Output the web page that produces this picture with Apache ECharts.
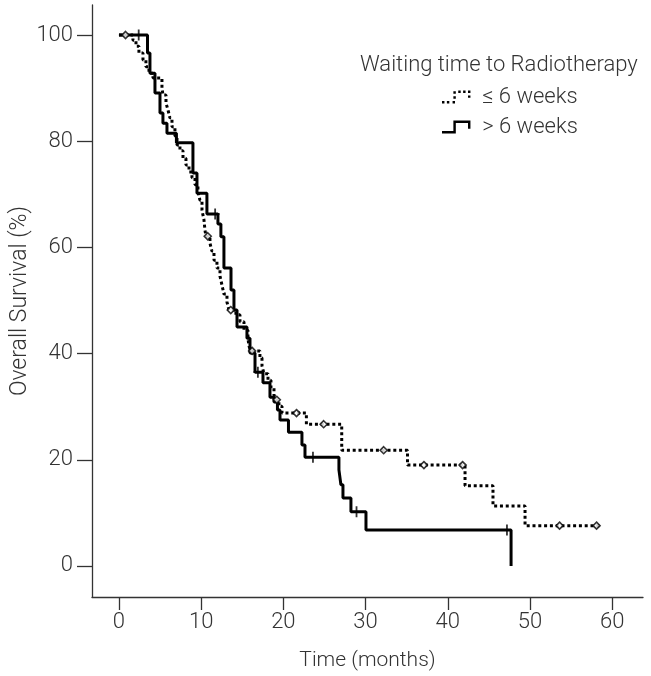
<!DOCTYPE html>
<html>
<head>
<meta charset="utf-8">
<script src="https://cdn.jsdelivr.net/npm/echarts@6/dist/echarts.min.js"></script>
<style>html,body{margin:0;padding:0;background:#fff}#c{width:651px;height:676px}</style>
</head>
<body>
<div id="c"></div>
<script>
// ---- data ----
const xTicks = [0, 10, 20, 30, 40, 50, 60];
const yTicks = [0, 20, 40, 60, 80, 100];
const legendTitle = 'Waiting time to Radiotherapy';
const groupNames = ['≤ 6 weeks', '> 6 weeks'];

// Kaplan-Meier steps: [time (months), survival (%) after the drop]
const shortWait = [
  [0, 100], [1.70, 99.0], [2.07, 97.9], [2.43, 96.6], [2.92, 95.3], [3.28, 94.0],
  [3.65, 92.8], [4.14, 91.9], [5.23, 90.0], [5.35, 88.7], [5.72, 87.2], [5.96, 85.9],
  [6.20, 84.4], [6.45, 82.7], [6.81, 81.0], [7.06, 79.3], [7.42, 78.2], [7.79, 76.8],
  [8.15, 75.5], [8.52, 74.2], [8.88, 73.1], [9.25, 71.8], [9.61, 70.4], [9.85, 68.9],
  [10.10, 67.0], [10.34, 65.2], [10.46, 63.3], [10.58, 62.1], [11.07, 60.8], [11.31, 59.3],
  [11.56, 57.6], [11.92, 56.1], [12.29, 54.6], [12.53, 52.9], [12.77, 51.2], [13.14, 49.7],
  [13.38, 48.2], [14.23, 47.3], [14.72, 46.0], [15.21, 44.4], [15.69, 42.9], [15.82, 41.4],
  [16.06, 40.5], [17.15, 39.2], [17.40, 37.7], [17.64, 36.2], [18.13, 35.0], [18.49, 33.5],
  [18.86, 32.2], [19.10, 31.3], [19.46, 30.1], [19.83, 28.8], [22.8, 26.7], [27.1, 21.8],
  [35.1, 19.0], [42.1, 15.1], [45.5, 11.3], [49.4, 7.6], [58.5, 7.6]
];
const shortWaitCensored = [
  [0.8, 100], [10.8, 62.1], [13.6, 48.2], [16.2, 40.5], [19.2, 31.3], [21.6, 28.8],
  [24.9, 26.7], [32.2, 21.8], [37.1, 19.0], [41.8, 19.0], [53.6, 7.6], [58.1, 7.6]
];
const longWait = [
  [0, 100], [3.47, 96.6], [3.77, 92.8], [4.38, 89.1], [4.99, 85.3], [5.35, 83.4],
  [5.84, 81.5], [6.99, 79.7], [9.0, 74.0], [9.49, 70.2], [10.7, 66.3], [12.04, 64.4],
  [12.4, 62.0], [12.77, 56.1], [13.63, 52.0], [13.99, 48.2], [14.36, 45.0], [15.57, 42.9],
  [15.94, 40.1], [16.55, 36.5], [17.52, 34.5], [18.37, 31.8], [18.86, 30.9], [19.28, 29.4],
  [19.59, 27.5], [20.62, 25.2], [22.26, 22.8], [22.63, 20.5], [26.76, 18.1], [27.0, 15.3],
  [27.25, 12.8], [28.22, 10.2], [30.05, 6.8], [47.7, 0]
];
const longWaitCensored = [
  [2.4, 100], [11.7, 66.3], [16.9, 36.5], [23.6, 20.5], [28.9, 10.2], [47.2, 6.8]
];

// ---- chart ----
const FONT = 'Roboto';
const FS = 22;
const TXT = '#333';
const solidIcon = 'path://M0,13H17V16H0Z M14,0H17V16H14Z M14,0H35V3H14Z M32,0H35V10H32Z';
const dottedIcon = 'path://M0,13H3V16H0Z M6,13H9V16H6Z M13,13H16V16H13Z M14,7H17V10H14Z M14,1H17V4H14Z M20,0H23V3H20Z M26,0H29V3H26Z M32,0H35V3H32Z M32,6H35V9H32Z';
const censorSolid = 'path://M4,0H6V12H4Z M0,5H10V7H0Z';
const censorHollow = 'path://M4,0L8,4L4,8L0,4Z';

const chart = echarts.init(document.getElementById('c'), null, {renderer: 'canvas'});
chart.setOption({
  animation: false,
  backgroundColor: '#fff',
  textStyle: {fontFamily: FONT},
  title: {
    text: legendTitle, left: 360, top: 54, padding: 0,
    textStyle: {fontFamily: FONT, fontWeight: 300, fontSize: FS, color: TXT}
  },
  legend: {
    data: [
      {name: groupNames[0], icon: dottedIcon, itemStyle: {color: '#000', borderWidth: 0}},
      {name: groupNames[1], icon: solidIcon, itemStyle: {color: '#000', borderWidth: 0}}
    ],
    orient: 'vertical', left: 437, top: 81, itemWidth: 36, itemHeight: 13, itemGap: 8,
    textStyle: {fontFamily: FONT, fontWeight: 300, fontSize: FS, lineHeight: 22, color: TXT, padding: [0, 0, 0, 3]}
  },
  grid: {left: 92, right: 8, top: 5, bottom: 79, containLabel: false, outerBoundsMode: 'none'},
  xAxis: {
    type: 'value', min: -3.28, max: 63.75,
    name: 'Time (months)', nameLocation: 'middle', nameGap: 53, nameMoveOverlap: false,
    nameTextStyle: {fontFamily: FONT, fontWeight: 300, fontSize: 21, color: TXT},
    axisLine: {show: true, onZero: false, lineStyle: {color: '#333', width: 1.3}},
    axisTick: {show: true, length: 13, customValues: xTicks, lineStyle: {color: '#333', width: 1.3}},
    axisLabel: {customValues: xTicks, margin: 14, fontFamily: FONT, fontWeight: 300, fontSize: FS, color: TXT},
    splitLine: {show: false}
  },
  yAxis: {
    type: 'value', min: -5.84, max: 105.65,
    name: 'Overall Survival (%)', nameLocation: 'middle', nameGap: 60, nameRotate: 90, nameMoveOverlap: false,
    nameTextStyle: {fontFamily: FONT, fontWeight: 300, fontSize: 23, color: TXT},
    axisLine: {show: true, onZero: false, lineStyle: {color: '#333', width: 1.3}},
    axisTick: {show: true, length: 15, customValues: yTicks, lineStyle: {color: '#333', width: 1.3}},
    axisLabel: {customValues: yTicks, margin: 19, fontFamily: FONT, fontWeight: 300, fontSize: FS, color: TXT},
    splitLine: {show: false}
  },
  series: [
    {
      name: groupNames[0], type: 'line', step: 'end', data: shortWait, showSymbol: false,
      lineStyle: {color: '#000', width: 3, type: [3, 2.8], cap: 'butt'}, itemStyle: {color: '#000'}
    },
    {
      name: groupNames[1], type: 'line', step: 'end', data: longWait, showSymbol: false,
      lineStyle: {color: '#000', width: 3, type: 'solid'}, itemStyle: {color: '#000'}
    },
    {
      name: 'c1', type: 'scatter', data: shortWaitCensored, symbol: censorHollow, symbolSize: 7,
      itemStyle: {color: '#fff', borderColor: '#000', borderWidth: 1.6}, z: 5
    },
    {
      name: 'c2', type: 'scatter', data: longWaitCensored, symbol: censorSolid, symbolSize: [9, 11],
      itemStyle: {color: '#000'}, z: 5
    }
  ]
});
</script>
</body>
</html>
